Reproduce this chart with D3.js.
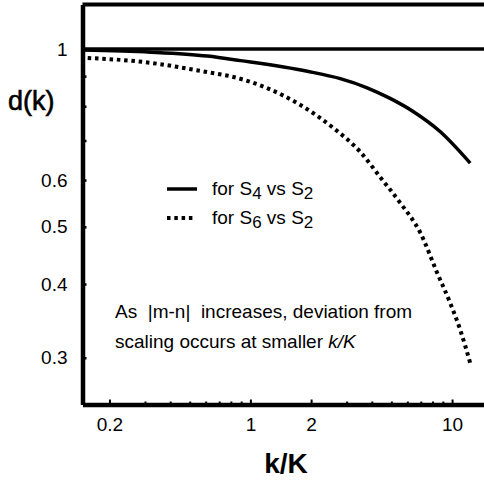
<!DOCTYPE html>
<html>
<head>
<meta charset="utf-8">
<script src="https://cdn.jsdelivr.net/npm/d3@7"></script>
<style>
  body { margin: 0; background: #fff; }
  text { font-family: "Liberation Sans", Arial, sans-serif; fill: #000; }
</style>
</head>
<body>
<script>
const w = 484;
const h = 481;

// curve readings (k/K, d(k))
const kS4 = [0.147, 0.32, 0.612, 0.892, 1.915, 2.79, 3.79, 4.93, 6.41, 8.72, 12.3];
const dS4 = [0.996, 0.988, 0.973, 0.956, 0.917, 0.891, 0.86, 0.825, 0.784, 0.725, 0.641];
const kS6 = [0.156, 0.295, 0.612, 0.824, 1.21, 1.77, 2.58, 3.5, 4.4, 5.53, 6.95, 8.43, 9.77, 10.96, 12.3];
const dS6 = [0.966, 0.951, 0.914, 0.897, 0.859, 0.804, 0.735, 0.67, 0.607, 0.549, 0.489, 0.418, 0.372, 0.335, 0.294];

const xTicks = [0.2, 0.3, 0.4, 0.5, 0.6, 0.7, 0.8, 0.9, 1, 2, 3, 4, 5, 6, 7, 8, 9, 10];
const xLabels = [0.2, 1, 2, 10];
const yTicks = [0.3, 0.4, 0.5, 0.6, 0.7, 0.8, 0.9];
const yLabels = [0.3, 0.4, 0.5, 0.6, 1];

const plotLeft = 82.5, plotTop = 4.5, plotBottom = 404.5;

const svg = d3.select("body")
  .append("svg")
  .attr("width", w)
  .attr("height", h);

const x = d3.scaleLog().domain([0.147, 14.4]).range([plotLeft, w]);
const y = d3.scaleLog().domain([0.25, 1.19]).range([plotBottom, plotTop]);

// x axis, ticks pointing inward
const xAxis = svg.append("g")
  .attr("transform", "translate(0," + plotBottom + ")")
  .call(d3.axisBottom(x)
    .tickValues(xTicks)
    .tickSizeInner(-3)
    .tickSizeOuter(0)
    .tickPadding(13.5)
    .tickFormat(d => xLabels.includes(d) ? d3.format("~g")(d) : ""));
xAxis.select(".domain").attr("stroke-width", 4.5);
xAxis.selectAll(".tick line")
  .attr("stroke-width", 2)
  .attr("y2", d => xLabels.includes(d) ? -5 : -3);
xAxis.selectAll("text").attr("font-size", 19).attr("font-family", null);

// y axis
const yAxis = svg.append("g")
  .attr("transform", "translate(" + plotLeft + ",0)")
  .call(d3.axisLeft(y)
    .tickValues(yTicks.concat([1]))
    .tickSizeInner(-4)
    .tickSizeOuter(0)
    .tickPadding(15)
    .tickFormat(d => yLabels.includes(d) ? d3.format("~g")(d) : ""));
yAxis.select(".domain").attr("stroke-width", 4.5);
yAxis.selectAll(".tick line").attr("stroke-width", 2.5);
yAxis.selectAll("text").attr("font-size", 19).attr("font-family", null);

// top frame line and reference at d = 1
svg.append("line")
  .attr("x1", plotLeft).attr("x2", w)
  .attr("y1", plotTop).attr("y2", plotTop)
  .attr("stroke", "#000").attr("stroke-width", 4);
svg.append("line")
  .attr("x1", plotLeft).attr("x2", w)
  .attr("y1", y(1)).attr("y2", y(1))
  .attr("stroke", "#000").attr("stroke-width", 3.5);

const line = d3.line()
  .x(d => x(d[0]))
  .y(d => y(d[1]))
  .curve(d3.curveMonotoneX);

svg.append("path")
  .datum(kS4.map((k, i) => [k, dS4[i]]))
  .attr("d", line)
  .attr("fill", "none")
  .attr("stroke", "#000")
  .attr("stroke-width", 3.5);

svg.append("path")
  .datum(kS6.map((k, i) => [k, dS6[i]]))
  .attr("d", line)
  .attr("fill", "none")
  .attr("stroke", "#000")
  .attr("stroke-width", 4)
  .attr("stroke-dasharray", "3.5,3.8");

// legend
const legend = svg.append("g");
legend.append("line")
  .attr("x1", 167).attr("x2", 197).attr("y1", 189).attr("y2", 189)
  .attr("stroke", "#000").attr("stroke-width", 3.5);
legend.append("line")
  .attr("x1", 167).attr("x2", 195).attr("y1", 218).attr("y2", 218)
  .attr("stroke", "#000").attr("stroke-width", 4)
  .attr("stroke-dasharray", "3.5,3.8");

function legendText(yPos, sub) {
  const t = legend.append("text").attr("x", 212).attr("y", yPos).attr("font-size", 19);
  t.append("tspan").text("for S");
  t.append("tspan").attr("dy", 4).attr("font-size", 17).text(sub);
  t.append("tspan").attr("dy", -4).text(" vs S");
  t.append("tspan").attr("dy", 4).attr("font-size", 17).text("2");
}
legendText(195, "4");
legendText(224, "6");

// annotation
svg.append("text")
  .attr("x", 115).attr("y", 318).attr("font-size", 19)
  .attr("xml:space", "preserve")
  .text("As  |m-n|  increases, deviation from");
const note2 = svg.append("text")
  .attr("x", 115).attr("y", 348).attr("font-size", 19);
note2.append("tspan").text("scaling occurs at smaller ");
note2.append("tspan").attr("font-style", "italic").text("k/K");

// axis titles
svg.append("text")
  .attr("x", 8).attr("y", 110)
  .attr("font-size", 27)
  .attr("stroke", "#000")
  .attr("stroke-width", 0.6)
  .text("d(k)");
svg.append("text")
  .attr("x", 286).attr("y", 473)
  .attr("text-anchor", "middle")
  .attr("font-size", 28)
  .attr("font-weight", "bold")
  .text("k/K");
</script>
</body>
</html>
